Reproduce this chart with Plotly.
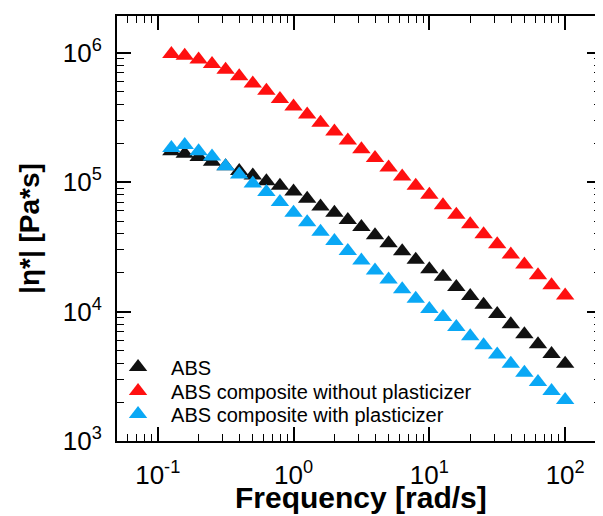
import plotly.graph_objects as go

# Angular frequency [rad/s]
frequency = [0.126, 0.158, 0.200, 0.251, 0.316, 0.398, 0.501, 0.631, 0.794, 1.00,
             1.26, 1.58, 2.00, 2.51, 3.16, 3.98, 5.01, 6.31, 7.94, 10.0,
             12.6, 15.8, 20.0, 25.1, 31.6, 39.8, 50.1, 63.1, 79.4, 100.0]

# Complex viscosity |eta*| [Pa*s]
abs_neat = [1.74e5, 1.66e5, 1.57e5, 1.44e5, 1.33e5, 1.22e5, 1.13e5, 1.02e5, 9.4e4, 8.5e4,
            7.45e4, 6.5e4, 5.8e4, 5.1e4, 4.5e4, 3.9e4, 3.38e4, 2.93e4, 2.52e4, 2.13e4,
            1.86e4, 1.55e4, 1.32e4, 1.13e4, 9.6e3, 8.0e3, 6.7e3, 5.6e3, 4.7e3, 3.96e3]

abs_comp_no_plast = [9.8e5, 9.5e5, 8.9e5, 8.2e5, 7.4e5, 6.6e5, 5.8e5, 5.1e5, 4.4e5, 3.85e5,
                     3.34e5, 2.88e5, 2.47e5, 2.10e5, 1.80e5, 1.54e5, 1.30e5, 1.11e5, 9.4e4, 8.0e4,
                     6.65e4, 5.6e4, 4.73e4, 3.96e4, 3.32e4, 2.76e4, 2.31e4, 1.91e4, 1.60e4, 1.33e4]

abs_comp_plast = [1.84e5, 1.94e5, 1.74e5, 1.58e5, 1.33e5, 1.15e5, 9.8e4, 8.4e4, 7.05e4, 5.8e4,
                  4.9e4, 4.14e4, 3.52e4, 2.94e4, 2.48e4, 2.08e4, 1.77e4, 1.49e4, 1.26e4, 1.05e4,
                  9.1e3, 7.6e3, 6.45e3, 5.5e3, 4.66e3, 3.96e3, 3.37e3, 2.86e3, 2.43e3, 2.07e3]

series_names = ["ABS", "ABS composite without plasticizer", "ABS composite with plasticizer"]
series_colors = ["#111111", "#FF1010", "#0AA8F5"]

x_title = "Frequency [rad/s]"
y_title = "|η*| [Pa*s]"

x_tickvals = [0.1, 1, 10, 100]
x_ticktext = ["10<sup>-1</sup>", "10<sup>0</sup>", "10<sup>1</sup>", "10<sup>2</sup>"]
y_tickvals = [1e3, 1e4, 1e5, 1e6]
y_ticktext = ["10<sup>3</sup>", "10<sup>4</sup>", "10<sup>5</sup>", "10<sup>6</sup>"]

x_minor = [m * 10.0 ** e for e in range(-2, 3) for m in range(2, 10)]
y_minor = [m * 10.0 ** e for e in range(2, 7) for m in range(2, 10)]

FONT = "Liberation Sans, Arial, Helvetica, sans-serif"

# the page body has an 8 px default margin, so the figure is 8 px smaller
W, H, BODY = 603, 516, 8
PLOT_L, PLOT_T, PLOT_B = 117, 16, 441

fig = go.Figure()
legend_ids = ["legend", "legend2", "legend3"]
for name, ys, col, lg in zip(series_names, [abs_neat, abs_comp_no_plast, abs_comp_plast],
                             series_colors, legend_ids):
    fig.add_trace(go.Scatter(
        x=frequency, y=ys, mode="markers", name=name, legend=lg,
        marker=dict(symbol="triangle-up", size=16, color=col, line=dict(width=0)),
    ))

def axis_common(minor_vals):
    return dict(
        type="log", showgrid=False, zeroline=False,
        showline=True, linecolor="black", linewidth=2,
        mirror="allticks", ticks="inside", ticklen=14, tickwidth=1.5, tickcolor="black",
        minor=dict(ticks="inside", ticklen=7, tickwidth=1.2, tickcolor="black",
                   tickmode="array", tickvals=minor_vals, showgrid=False),
        tickfont=dict(family=FONT, size=26, color="black"),
    )

fig.update_xaxes(
    **axis_common(x_minor),
    range=[-1.300, 2.264],
    tickmode="array", tickvals=x_tickvals, ticktext=x_ticktext,
    ticklabelstandoff=10,
)
fig.update_yaxes(
    **axis_common(y_minor),
    range=[3.0, 6.285],
    tickmode="array", tickvals=y_tickvals, ticktext=y_ticktext,
    ticklabelstandoff=8,
    title=dict(text="<b>" + y_title + "</b>", font=dict(family=FONT, size=28, color="black")),
)

plot_w = W - PLOT_L
plot_h = PLOT_B - PLOT_T

def px_to_paper(px, py):
    return (px - PLOT_L) / plot_w, (PLOT_B - py) / plot_h

# x-axis title placed as a paper-anchored annotation so its position can be tuned
tx, ty = px_to_paper(362, 498)
fig.add_annotation(
    text="<b>" + x_title + "</b>", xref="paper", yref="paper", x=tx, y=ty,
    xanchor="center", yanchor="middle", showarrow=False,
    font=dict(family=FONT, size=30, color="black"),
)

legend_rows = [367, 391, 414]
legend_left = 105
legend_cfg = {}
for lg, row in zip(legend_ids, legend_rows):
    lx, ly = px_to_paper(legend_left, row)
    legend_cfg[lg] = dict(
        x=lx, y=ly, xanchor="left", yanchor="middle",
        bgcolor="rgba(0,0,0,0)", borderwidth=0,
        font=dict(family=FONT, size=20, color="black"),
        itemwidth=56,
    )

fig.update_layout(
    width=W - BODY, height=H - BODY,
    margin=dict(l=PLOT_L - BODY, r=0, t=PLOT_T - BODY, b=H - PLOT_B),
    paper_bgcolor="white", plot_bgcolor="white",
    font=dict(family=FONT, color="black"),
    showlegend=True,
    **legend_cfg,
)

fig.write_html("out.html")
